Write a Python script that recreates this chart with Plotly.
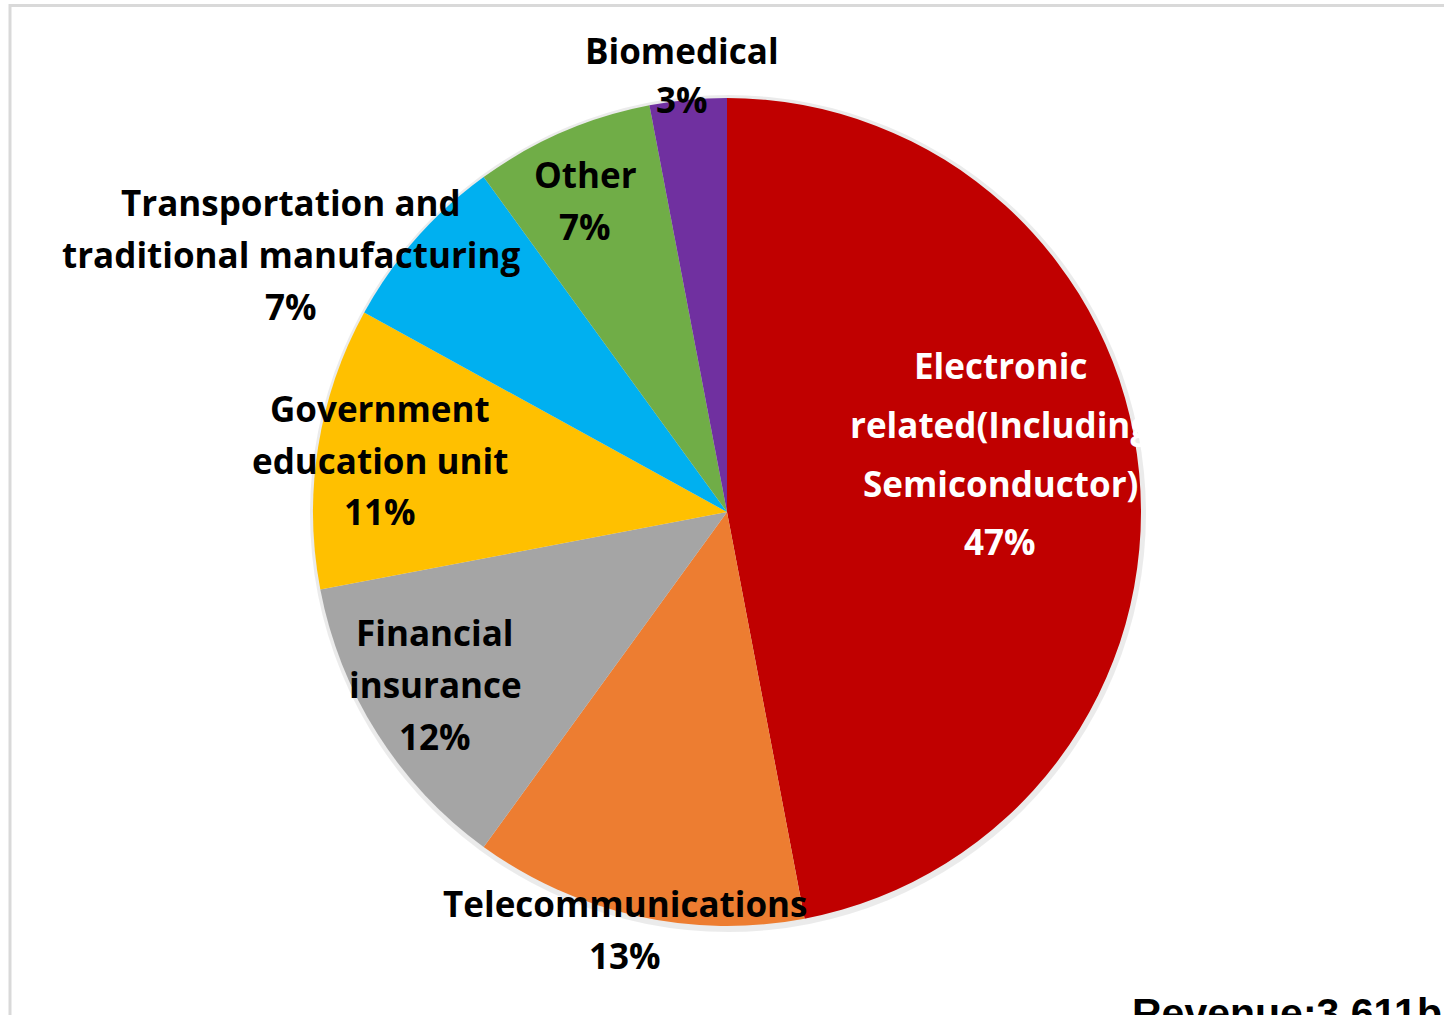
import plotly.graph_objects as go

categories = [
    "Electronic related(Including Semiconductor)",
    "Telecommunications",
    "Financial insurance",
    "Government education unit",
    "Transportation and traditional manufacturing",
    "Other",
    "Biomedical",
]
values = [47, 13, 12, 11, 7, 7, 3]
colors = ["#C00000", "#ED7D31", "#A5A5A5", "#FFC000", "#00B0F0", "#70AD47", "#7030A0"]
label_lines = [
    ["Electronic", "related(Including", "Semiconductor)"],
    ["Telecommunications"],
    ["Financial", "insurance"],
    ["Government", "education unit"],
    ["Transportation and", "traditional manufacturing"],
    ["Other"],
    ["Biomedical"],
]
revenue_text = "Revenue:3,611billion"

W, H = 1444, 1015
cx, cy, r = 727, 512, 414

# label layout (pixel centers of first line, line spacing, text colour)
label_pos = [
    (1000, 366, 58.5, "white"),
    (625, 903, 52, "black"),
    (435, 632, 52, "black"),
    (380, 408, 52, "black"),
    (291, 203, 51.5, "black"),
    (585, 174, 52, "black"),
    (682, 50, 50, "black"),
]
FONT = "Open Sans"

fig = go.Figure()
fig.add_trace(go.Pie(
    labels=categories,
    values=values,
    sort=False,
    direction="clockwise",
    rotation=0,
    marker=dict(colors=colors, line=dict(width=0)),
    textinfo="none",
    hoverinfo="label+percent",
    showlegend=False,
    domain=dict(x=[(cx - r) / W, (cx + r) / W], y=[(H - cy - r) / H, (H - cy + r) / H]),
))

def px(x, y):
    return x / W, 1 - y / H

annotations = []
for lines, val, (x0, y0, dy, col) in zip(label_lines, values, label_pos):
    all_lines = lines + [f"{val}%"]
    for i, t in enumerate(all_lines):
        ax, ay = px(x0, y0 + i * dy)
        annotations.append(dict(
            x=ax, y=ay, xref="paper", yref="paper", text=f"<b>{t}</b>",
            showarrow=False, xanchor="center", yanchor="middle",
            font=dict(family=FONT, size=35, color=col),
        ))

ax, ay = px(1130, 988)
annotations.append(dict(
    x=ax, y=ay, xref="paper", yref="paper", text=f"<b>{revenue_text}</b>",
    showarrow=False, xanchor="left", yanchor="top",
    font=dict(family="Liberation Sans", size=41, color="black"),
))

shapes = [
    # faint shadow ring around the pie
    dict(type="circle", xref="paper", yref="paper", layer="below",
         x0=(cx - r - 3) / W, x1=(cx + r + 5) / W,
         y0=(H - cy - r - 6) / H, y1=(H - cy + r + 3) / H,
         line=dict(width=0), fillcolor="rgba(0,0,0,0.08)"),
    # chart frame
    dict(type="rect", xref="paper", yref="paper", layer="above",
         x0=10 / W, x1=1.05, y0=-0.05, y1=1 - 5.5 / H,
         line=dict(color="#D9D9D9", width=3)),
]

fig.update_layout(
    width=W, height=H,
    margin=dict(l=0, r=0, t=0, b=0),
    paper_bgcolor="white", plot_bgcolor="white",
    annotations=annotations,
    shapes=shapes,
)
fig.write_html("out.html", config={"displayModeBar": False},
               post_script="document.body.style.margin='0';document.body.style.overflow='hidden';")
